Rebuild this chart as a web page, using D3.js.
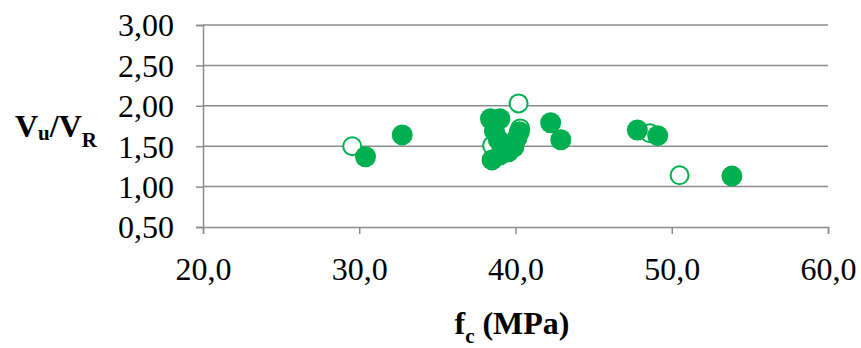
<!DOCTYPE html>
<html><head><meta charset="utf-8">
<script src="https://cdn.jsdelivr.net/npm/d3@7"></script>
</head><body style="margin:0">
<svg id="c" width="861" height="348"></svg>
<script>
const xTicks = [20, 30, 40, 50, 60];
const yTicks = [0.5, 1.0, 1.5, 2.0, 2.5, 3.0];
// Filled series: [fc, Vu/VR]
const filledFc = [38.4, 39.0, 38.65, 38.9, 39.2, 39.55, 39.9, 40.1, 40.25, 38.5, 39.0, 30.4, 32.75, 42.25, 42.9, 47.8, 49.1, 53.85];
const filledV  = [1.84, 1.84, 1.69, 1.58, 1.52, 1.43, 1.49, 1.60, 1.68, 1.33, 1.39, 1.37, 1.64, 1.79, 1.58, 1.70, 1.63, 1.13];
// Hollow series
const hollowFc = [29.55, 40.2, 40.3, 38.5, 48.6, 50.5];
const hollowV  = [1.50, 2.03, 1.72, 1.51, 1.66, 1.14];

const svg = d3.select("#c");
const x = d3.scaleLinear().domain([20, 60]).range([203, 828]);
const y = d3.scaleLinear().domain([0.5, 3.0]).range([227, 25]);
const fmtY = v => d3.format(".2f")(v).replace(".", ",");
const fmtX = v => d3.format(".1f")(v).replace(".", ",");
const grey = "#8c8c8c";
const font = '"Liberation Serif"';

// gridlines
svg.append("g").selectAll("line").data(yTicks.slice(1)).join("line")
  .attr("x1", x(20)).attr("x2", x(60))
  .attr("y1", d => y(d)).attr("y2", d => y(d))
  .attr("stroke", grey).attr("stroke-width", 1.5);

// y axis
const yAxis = svg.append("g").attr("transform", `translate(${x(20)},0)`)
  .call(d3.axisLeft(y).tickValues(yTicks).tickFormat(fmtY).tickSize(7).tickPadding(22));
yAxis.attr("font-family", font).attr("font-size", 32);
yAxis.select(".domain").attr("stroke", grey).attr("stroke-width", 1.5);
yAxis.selectAll(".tick line").attr("stroke", grey).attr("stroke-width", 1.5);
yAxis.selectAll("text").style("font-family", font).style("font-size", "32px").attr("fill", "#000").attr("dy", "0.34em");

// x axis
const xAxis = svg.append("g").attr("transform", `translate(0,${y(0.5)})`)
  .call(d3.axisBottom(x).tickValues(xTicks).tickFormat(fmtX).tickSize(7).tickPadding(35));
xAxis.attr("font-family", font).attr("font-size", 32);
xAxis.select(".domain").attr("stroke", grey).attr("stroke-width", 1.5);
xAxis.selectAll(".tick line").attr("stroke", grey).attr("stroke-width", 1.5);
xAxis.selectAll("text").style("font-family", font).style("font-size", "32px").attr("fill", "#000").attr("dy", "0.34em");

const green = "#00b050";
const hollow = hollowFc.map((f, i) => ({f, v: hollowV[i]}));
const filled = filledFc.map((f, i) => ({f, v: filledV[i]}));
svg.append("g").selectAll("circle").data(hollow).join("circle")
  .attr("cx", d => x(d.f)).attr("cy", d => y(d.v)).attr("r", 9)
  .attr("fill", "#fff").attr("stroke", green).attr("stroke-width", 2);
svg.append("g").selectAll("circle").data(filled).join("circle")
  .attr("cx", d => x(d.f)).attr("cy", d => y(d.v)).attr("r", 10.5)
  .attr("fill", green);

// axis titles
const yt = svg.append("text").attr("x", 15).attr("y", 137)
  .style("font-family", font).style("font-weight", "bold").style("font-size", "32px");
yt.append("tspan").text("V");
yt.append("tspan").style("font-size", "21px").attr("dy", 3).text("u");
yt.append("tspan").attr("dy", -3).text("/V");
yt.append("tspan").style("font-size", "21px").attr("dy", 10).text("R");

const xt = svg.append("text").attr("x", 512).attr("y", 334).attr("text-anchor", "middle")
  .style("font-family", font).style("font-weight", "bold").style("font-size", "32px");
xt.append("tspan").text("f");
xt.append("tspan").style("font-size", "21px").attr("dy", 9).text("c");
xt.append("tspan").attr("dy", -9).text(" (MPa)");
</script>
</body></html>
